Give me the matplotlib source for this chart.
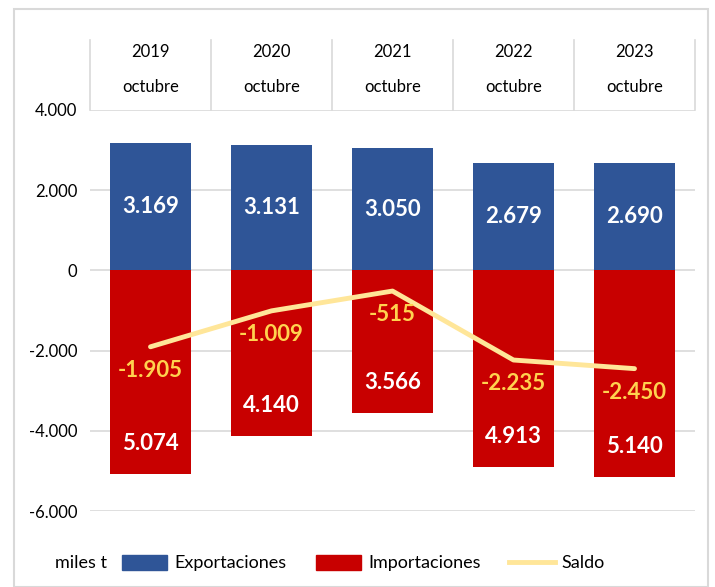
import matplotlib
matplotlib.use("Agg")
import matplotlib.pyplot as plt
import numpy as np
from matplotlib.patches import Rectangle, Patch
from matplotlib.lines import Line2D

years = ["2019", "2020", "2021", "2022", "2023"]
month = "octubre"
exportaciones = [3169, 3131, 3050, 2679, 2690]
importaciones = [5074, 4140, 3566, 4913, 5140]
saldo = [-1905, -1009, -515, -2235, -2450]
yticks = [-6000, -4000, -2000, 0, 2000, 4000]

BLUE = "#2F5597"
RED = "#C80000"
LINE = "#FFE699"
SALDO_TXT = "#FFD24F"
GRID = "#D9D9D9"

plt.rcParams['font.family'] = ['Lato', 'DejaVu Sans']

def fmt(v):
    s = f"{abs(v):,}".replace(",", ".")
    return ("-" if v < 0 else "") + s

fig = plt.figure(figsize=(7.15, 5.87), dpi=100)
fig.patches.append(Rectangle((14/715, 0.0), (708-14)/715, 1 - 9/587,
                             transform=fig.transFigure, fill=False,
                             edgecolor="#D9D9D9", linewidth=1.5))

ax = fig.add_axes([90/715, 1 - 511/587, (695-90)/715, (511-110)/587])
x = np.arange(len(years))
w = 0.67
ax.bar(x, exportaciones, width=w, color=BLUE, zorder=2)
ax.bar(x, [-v for v in importaciones], width=w, color=RED, zorder=2)
ax.plot(x, saldo, color=LINE, linewidth=3.5, solid_capstyle='round',
        solid_joinstyle='round', zorder=3)

for i in range(len(years)):
    ax.text(x[i], exportaciones[i] / 2, fmt(exportaciones[i]), ha='center', va='center',
            color='white', fontsize=16, fontweight='bold', zorder=4)
    ax.text(x[i], -importaciones[i] + 760, fmt(importaciones[i]), ha='center', va='center',
            color='white', fontsize=16, fontweight='bold', zorder=4)
    ax.annotate(fmt(saldo[i]), (x[i], saldo[i]), xytext=(0, -17), textcoords='offset points',
                ha='center', va='center', color=SALDO_TXT, fontsize=16,
                fontweight='bold', zorder=4)

ax.set_xlim(-0.5, len(years) - 0.5)
ax.set_ylim(-6000, 4000)
ax.set_yticks(yticks)
ax.set_yticklabels([fmt(v) for v in yticks], fontsize=12)
ax.tick_params(axis='y', length=0, pad=9)
ax.set_xticks([])
ax.yaxis.grid(True, color=GRID, linewidth=1.2, zorder=0)
ax.set_axisbelow(True)
for s in ax.spines.values():
    s.set_visible(False)

# header table
top = 5750
for b in np.arange(-0.5, len(years), 1.0):
    ax.plot([b, b], [4000, top], color=GRID, linewidth=1.2, clip_on=False)
for i, yv in enumerate(years):
    ax.text(x[i], 5450, yv, ha='center', va='center', fontsize=12, clip_on=False)
    ax.text(x[i], 4580, month, ha='center', va='center', fontsize=12, clip_on=False)

fig.text(55/715, 1 - 563/587, "miles t", ha='left', va='center', fontsize=13)
handles = [Patch(color=BLUE, label="Exportaciones"),
           Patch(color=RED, label="Importaciones"),
           Line2D([0], [0], color=LINE, linewidth=3.5, label="Saldo")]
fig.legend(handles=handles, loc='center left', bbox_to_anchor=(106/715, 1 - 563/587),
           ncol=3, frameon=False, fontsize=13, handlelength=2.5, handleheight=0.9,
           columnspacing=1.6, handletextpad=0.4)

fig.savefig("out.png", dpi=100)
